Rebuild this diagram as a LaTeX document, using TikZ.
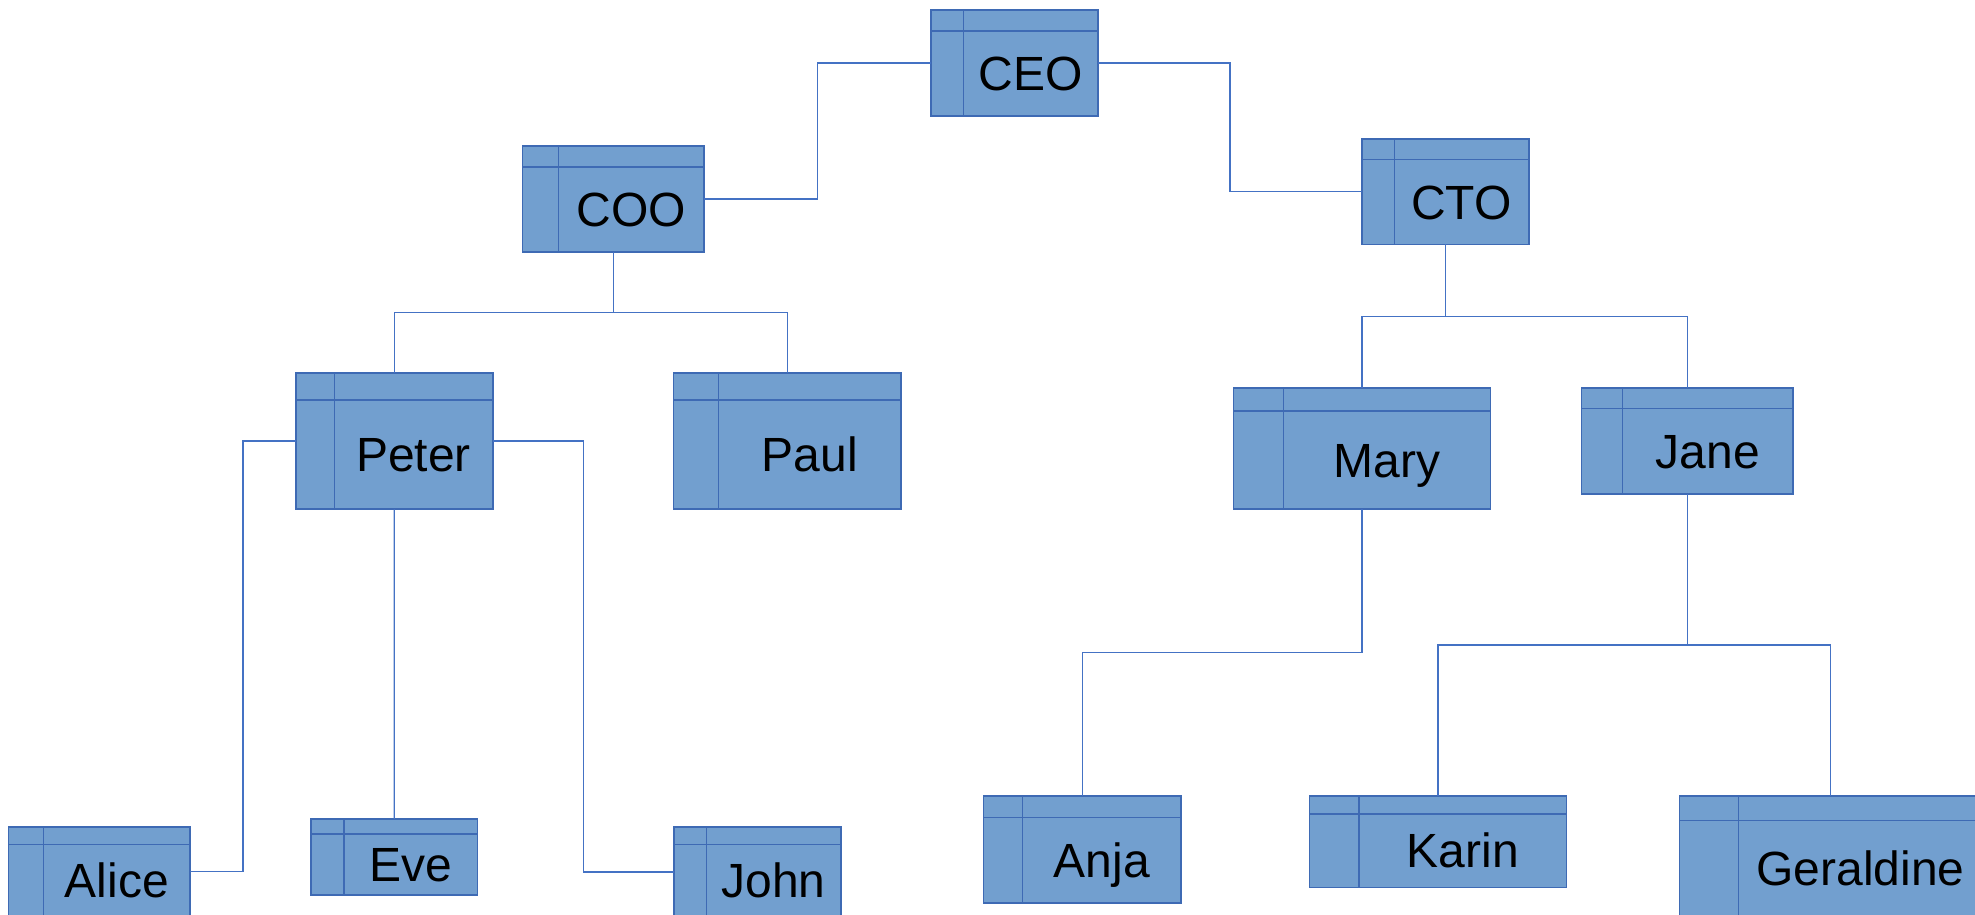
\documentclass[tikz,border=0pt]{standalone}
\usepackage{fontspec}
\setmainfont{Liberation Sans}
\usetikzlibrary{calc}

\definecolor{boxfill}{RGB}{114,159,207}
\definecolor{boxline}{RGB}{62,106,180}
\definecolor{wire}{RGB}{68,114,196}

\tikzset{
  orgcard/.style={draw=boxline, fill=boxfill, line width=1.6pt,
    inner sep=0pt, outer sep=0pt, rectangle},
  cardrule/.style={draw=boxline, line width=1.4pt},
  cardtext/.style={inner sep=0pt, outer sep=0pt, text height=34.4pt,
    text depth=0pt, font=\fontsize{48}{52}\selectfont, text=black},
  wire/.style={draw=wire, line width=1.3pt},
}

% #1 name, #2 left, #3 top, #4 right, #5 bottom, #6 divider x, #7 header y, #8 text
\newcommand\orgcard[8]{%
  \node[orgcard, minimum width={#4-#2}, minimum height={#5-#3}]
    (#1) at ({(#2+#4)/2},{(#3+#5)/2}) {};
  \draw[cardrule] (#6,#3) -- (#6,#5) (#2,#7) -- (#4,#7);
  \node[cardtext] (#1-t) at ({(#6+#4)/2},{(#7+#5)/2}) {#8};
}

\begin{document}
\begin{tikzpicture}[x=1pt,y=-1pt]
  \clip (0,0) rectangle (1975,915);
  \fill[white] (0,0) rectangle (1975,915);

  % cards
  \orgcard{ceo}{930.7}{10}{1097.7}{116}{963.3}{31}{CEO}
  \orgcard{coo}{522.3}{146}{704}{252}{558.3}{167}{COO}
  \orgcard{cto}{1362}{139}{1528.7}{244.3}{1394.3}{159.3}{CTO}
  \orgcard{peter}{295.7}{372.7}{492.7}{509}{334.3}{400}{Peter}
  \orgcard{paul}{673.3}{373}{901}{509}{718.3}{400}{Paul}
  \orgcard{mary}{1233.5}{388}{1490.6}{509}{1283.3}{411}{Mary}
  \orgcard{jane}{1581.3}{388}{1793.2}{494}{1622.3}{408.7}{Jane}
  \orgcard{alice}{8.3}{826.7}{190}{916}{43.7}{844.3}{Alice}
  \orgcard{eve}{310.7}{819}{477.6}{895}{343.8}{834}{Eve}
  \orgcard{john}{674}{826.7}{840.9}{917}{706.4}{844.3}{John}
  \orgcard{anja}{983.6}{796}{1180.9}{902.7}{1022.5}{817.3}{Anja}
  \orgcard{karin}{1309.3}{796}{1566.5}{887.3}{1359.1}{814}{Karin}
  \orgcard{geraldine}{1679.3}{796}{1982}{916}{1738.7}{820.7}{Geraldine}

  % reporting lines
  \draw[wire] (ceo.west) -| ($(ceo.west)!0.5!(coo.east)$) |- (coo.east);
  \draw[wire] (ceo.east) -| ($(ceo.east)!0.5!(cto.west)$) |- (cto.west);

  \draw[wire] (coo.south) |- ($(coo.south)!0.5!(peter.north)$) -| (peter.north);
  \draw[wire] (coo.south) |- ($(coo.south)!0.5!(paul.north)$) -| (paul.north);

  \draw[wire] (cto.south) |- ($(cto.south)!0.5!(mary.north)$) -| (mary.north);
  \draw[wire] (cto.south) |- ($(cto.south)!0.5!(jane.north)$) -| (jane.north);

  \draw[wire] (peter.west) -| ($(peter.west)!0.5!(alice.east)$) |- (alice.east);
  \draw[wire] (peter.south) -- (eve.north);
  \draw[wire] (peter.east) -| ($(peter.east)!0.5!(john.west)$) |- (john.west);

  \draw[wire] (mary.south) |- ($(mary.south)!0.5!(anja.north)$) -| (anja.north);

  \draw[wire] (jane.south) |- ($(jane.south)!0.5!(karin.north)$) -| (karin.north);
  \draw[wire] (jane.south) |- ($(jane.south)!0.5!(geraldine.north)$) -| (geraldine.north);
\end{tikzpicture}
\end{document}
